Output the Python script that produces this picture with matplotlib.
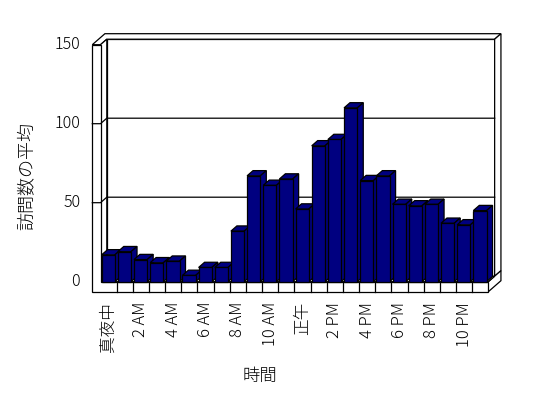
import matplotlib
matplotlib.use("Agg")
import matplotlib.pyplot as plt
from matplotlib.patches import Polygon

plt.rcParams['font.family'] = ['Noto Sans CJK JP', 'DejaVu Sans']
plt.rcParams['font.weight'] = 'light'

# average visits per hour (0..23)
hours = list(range(24))
visits = [17, 19, 14, 12, 13, 4, 9, 9, 32, 67, 61, 65, 46,
          86, 90, 110, 64, 67, 49, 48, 49, 37, 36, 45]
hour_labels = ["真夜中", "2 AM", "4 AM", "6 AM", "8 AM", "10 AM",
               "正午", "2 PM", "4 PM", "6 PM", "8 PM", "10 PM"]
y_ticks = [0, 50, 100, 150]

NAVY = "#000080"
W = 548
H = 398

# pixel geometry of the front plane
PX0 = 100.5      # x px of slot 0
PX_SLOT = 16.16  # px per slot
PY0 = 281.7      # y px of value 0
PY_UNIT = 1.58   # px per value unit

DX = 6.3 / PX_SLOT     # depth shift (per depth unit), x
DY = 5.5 / PY_UNIT     # depth shift, y
T = 8.2 / PX_SLOT      # left wall thickness
FT = 10.0 / PY_UNIT    # floor thickness
NS = len(hours)
YMAX = y_ticks[-1]


def P(x, y, z):
    return (x + z * DX, y + z * DY)


fig = plt.figure(figsize=(W / 100, H / 100), dpi=100)
left_px, right_px, top_px, bot_px = 80, 510, 25, 300
ax = fig.add_axes([left_px / W, 1 - bot_px / H,
                   (right_px - left_px) / W, (bot_px - top_px) / H])
ax.set_xlim((left_px - PX0) / PX_SLOT, (right_px - PX0) / PX_SLOT)
ax.set_ylim((PY0 - bot_px) / PY_UNIT, (PY0 - top_px) / PY_UNIT)
ax.axis("off")

lw = 0.9
def face(pts, z, fc="white"):
    ax.add_patch(Polygon(pts, closed=True, facecolor=fc, edgecolor="black",
                         lw=lw, zorder=z, joinstyle="miter"))

# walls and floor
face([P(0, 0, 1), P(NS, 0, 1), P(NS, YMAX, 1), P(0, YMAX, 1)], 1)
face([P(-T, YMAX, 0), P(0, YMAX, 0), P(0, YMAX, 1), P(NS, YMAX, 1),
      P(NS, YMAX, 2), P(-T, YMAX, 2)], 1)
face([P(NS, 0, 1), P(NS, 0, 2), P(NS, YMAX, 2), P(NS, YMAX, 1)], 1)
face([P(NS, -FT, 0), P(NS, -FT, 2), P(NS, 0, 2), P(NS, 0, 0)], 1)
face([P(0, 0, 0), P(0, 0, 1), P(0, YMAX, 1), P(0, YMAX, 0)], 1)
face([P(0, 0, 0), P(NS, 0, 0), P(NS, 0, 1), P(0, 0, 1)], 1)
face([P(-T, -FT, 0), P(NS, -FT, 0), P(NS, 0, 0), P(0, 0, 0),
      P(0, YMAX, 0), P(-T, YMAX, 0)], 1)

for v in y_ticks[1:-1]:
    pts = [P(-T, v, 0), P(0, v, 0), P(0, v, 1), P(NS, v, 1)]
    ax.plot([p[0] for p in pts], [p[1] for p in pts], color="black",
            lw=lw, zorder=1.5, solid_joinstyle="miter")

for i in range(1, NS):
    ax.plot([i, i], [-FT, 0], color="black", lw=lw, zorder=1.5)

# bars
bw = 0.82
boff = 0.07
zb = 0.95
lefts = [h + boff for h in hours]
ax.bar(lefts, visits, width=bw, align="edge", color=NAVY,
       edgecolor="black", linewidth=lw, zorder=3)
for x0, v in zip(lefts, visits):
    x1 = x0 + bw
    face([P(x0, v, 0), P(x1, v, 0), P(x1, v, zb), P(x0, v, zb)], 2, NAVY)
    face([P(x1, 0, 0), P(x1, 0, zb), P(x1, v, zb), P(x1, v, 0)], 2, NAVY)

# tick labels
for v in y_ticks:
    ax.text(-T - 0.75, v, str(v), ha="right", va="center", fontsize=11.5)
for k, lab in enumerate(hour_labels):
    ax.text(2 * k + 0.5, -FT - 6.5, lab, rotation=90, ha="center",
            va="top", fontsize=12)

fig.text(260 / W, 1 - 376 / H, "時間", ha="center", va="center", fontsize=12.5)
fig.text(27 / W, 1 - 176 / H, "訪問数の平均", ha="center", va="center",
         rotation=90, fontsize=13)

fig.savefig("out.png", dpi=100)
